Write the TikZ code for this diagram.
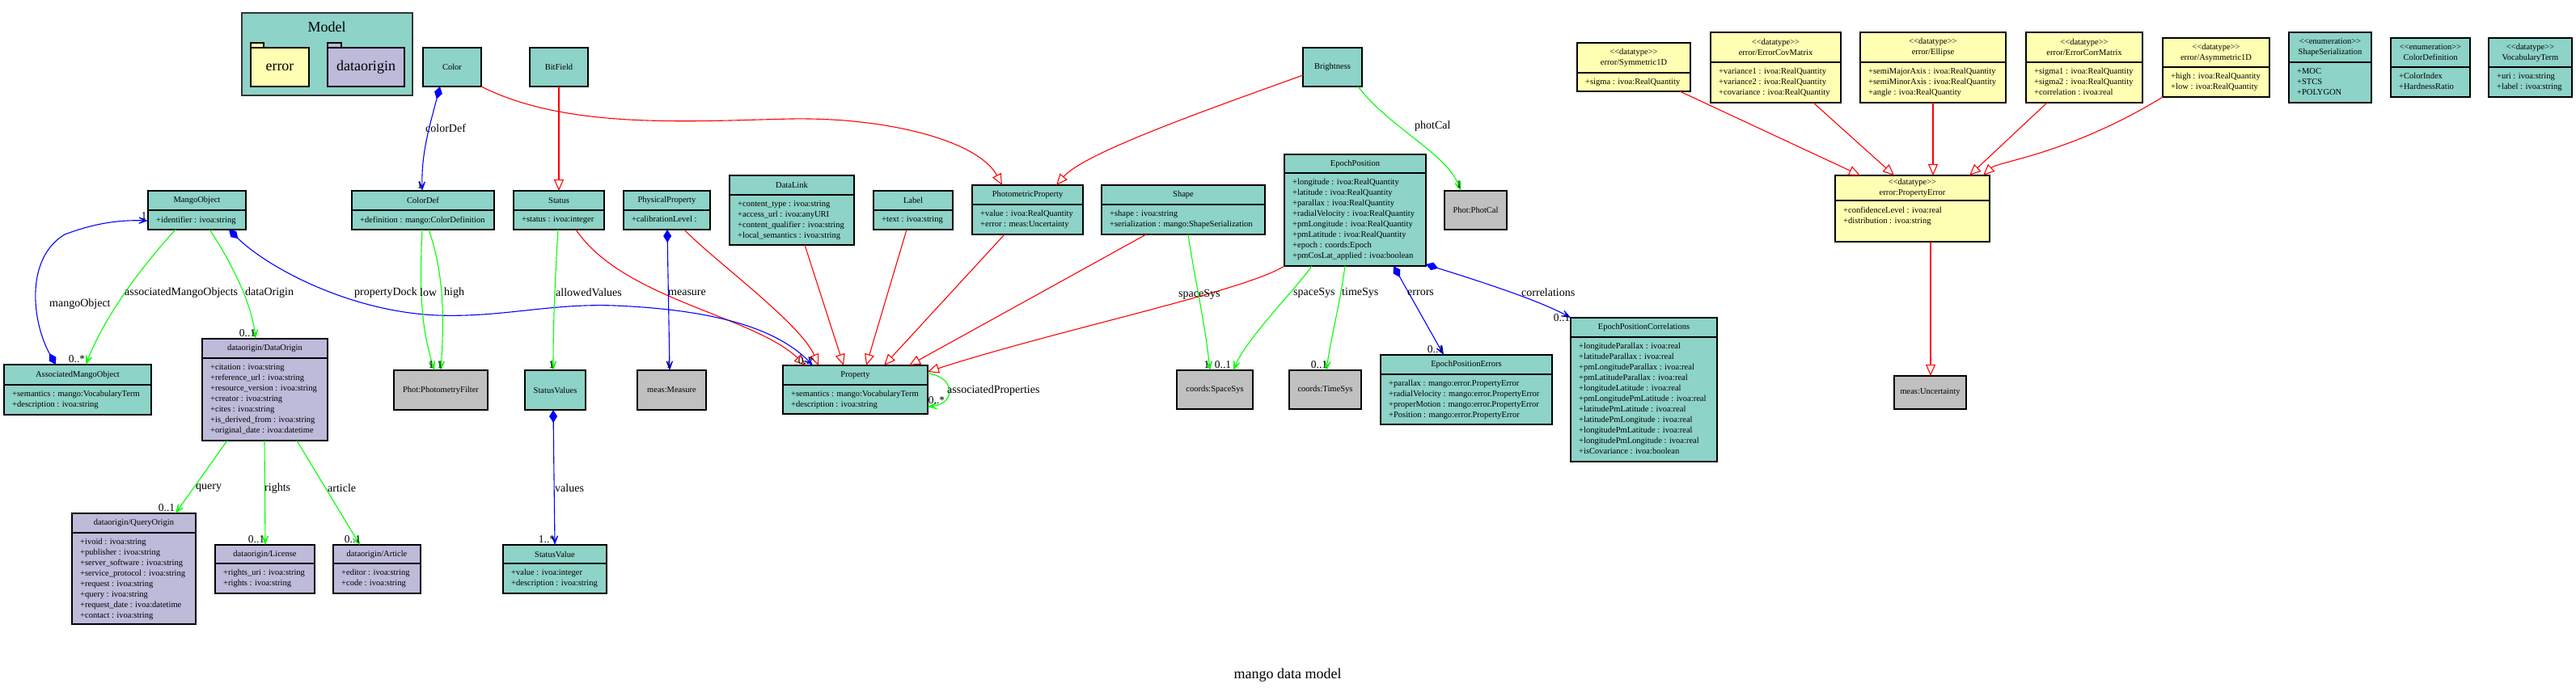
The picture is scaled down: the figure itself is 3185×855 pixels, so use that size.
\documentclass[tikz,border=0pt]{standalone}
\usepackage{fontspec}
\setmainfont{Liberation Serif}
\usetikzlibrary{arrows.meta}
\definecolor{teal8}{HTML}{8DD3C7}
\definecolor{yel}{HTML}{FFFFB3}
\definecolor{lav}{HTML}{BEBADA}
\definecolor{gry}{HTML}{C0C0C0}
\definecolor{gr}{HTML}{00FF00}
\newcommand\stl{<\kern0pt<}
\newcommand\stg{>\kern0pt>}
\tikzset{
  clsbox/.style={draw=black, line width=1.2pt, inner sep=0pt, outer sep=0pt},
  divline/.style={draw=black, line width=1.2pt},
  hdr/.style={inner sep=0pt, align=center, font=\fontsize{10.5}{13}\selectfont},
  attr/.style={inner sep=0pt, anchor=north west, align=left, font=\fontsize{10.5}{13}\selectfont},
  elbl/.style={inner sep=0pt, anchor=west, font=\fontsize{14}{16}\selectfont},
  mult/.style={inner sep=0pt, font=\fontsize{13.5}{15}\selectfont},
  gen/.style={draw=red, line width=1.1pt, -{Triangle[open, length=14pt, width=12pt]}},
  assoc/.style={draw=gr, line width=1.1pt, -{Stealth[length=17pt, width=13pt, inset=11pt]}},
  comp/.style={draw=blue, line width=1.1pt, {Diamond[length=16pt, width=10pt]}-{Stealth[length=17pt, width=13pt, inset=11pt]}},
}
\newcommand\umlcls[9]{%
  \node[clsbox, fill=#7, minimum width={(#4-#2)*1pt}, minimum height={(#5-#3)*1pt}] (#1) at ({(#2+#4)/2},{(#3+#5)/2}) {};
  \draw[divline] (#2,#6) -- (#4,#6);
  \node[hdr] (#1h) at ({(#2+#4)/2},{(#3+#6)/2}) {#8};
  \node[attr] (#1a) at (#2+10,#6+7.5) {#9};
}
\newcommand\umlbox[7]{%
  \node[clsbox, fill=#6, minimum width={(#4-#2)*1pt}, minimum height={(#5-#3)*1pt}, font=\fontsize{10.5}{13}\selectfont] (#1) at ({(#2+#4)/2},{(#3+#5)/2}) {#7};
}
\begin{document}
\begin{tikzpicture}[x=1pt, y=-1pt]
\fill[white] (0,0) rectangle (3185,855);
\useasboundingbox (0,0) rectangle (3185,855);

% package
\node[draw=black!80, line width=1.4pt, fill=teal8, minimum width=211pt, minimum height=102pt, inner sep=0pt] (Model) at (404.5,67) {};
\node[inner sep=0pt, font=\fontsize{18}{20}\selectfont] (ModelT) at (404,33) {Model};
\draw[fill=yel, line width=1.2pt] (310,53) rectangle (326,59);
\node[draw=black, line width=1.2pt, fill=yel, minimum width=72pt, minimum height=48pt, inner sep=0pt, font=\fontsize{18}{20}\selectfont] (pkgerror) at (346,83) {error};
\draw[fill=lav, line width=1.2pt] (405,53) rectangle (422,59);
\node[draw=black, line width=1.2pt, fill=lav, minimum width=95pt, minimum height=48pt, inner sep=0pt, font=\fontsize{18}{20}\selectfont] (pkgdataorigin) at (452.5,83) {dataorigin};

% classes
\umlbox{Color}{523}{59}{595}{107}{teal8}{Color}
\umlbox{BitField}{655}{59}{727}{107}{teal8}{BitField}
\umlbox{Brightness}{1611}{59}{1684}{107}{teal8}{Brightness}
\umlbox{PhotCal}{1786}{236}{1863}{284}{gry}{Phot:PhotCal}
\umlcls{MangoObject}{183}{236}{304}{284}{260}{teal8}{MangoObject}{+identifier : ivoa:string}
\umlcls{ColorDef}{435}{236}{611}{284}{260}{teal8}{ColorDef}{+definition : mango:ColorDefinition}
\umlcls{Status}{635}{236}{747}{284}{260}{teal8}{Status}{+status : ivoa:integer}
\umlcls{PhysProp}{771}{236}{878}{284}{260}{teal8}{PhysicalProperty}{+calibrationLevel :}
\umlcls{DataLink}{902}{217}{1056}{303}{241}{teal8}{DataLink}{+content\_type : ivoa:string\\+access\_url : ivoa:anyURI\\+content\_qualifier : ivoa:string\\+local\_semantics : ivoa:string}
\umlcls{Label}{1080}{236}{1178}{284}{260}{teal8}{Label}{+text : ivoa:string}
\umlcls{PhotProp}{1202}{229}{1339}{290}{253}{teal8}{PhotometricProperty}{+value : ivoa:RealQuantity\\+error : meas:Uncertainty}
\umlcls{Shape}{1362}{229}{1564}{290}{253}{teal8}{Shape}{+shape : ivoa:string\\+serialization : mango:ShapeSerialization}
\umlcls{EpochPos}{1588}{191}{1763}{329}{214}{teal8}{EpochPosition}{+longitude : ivoa:RealQuantity\\+latitude : ivoa:RealQuantity\\+parallax : ivoa:RealQuantity\\+radialVelocity : ivoa:RealQuantity\\+pmLongitude : ivoa:RealQuantity\\+pmLatitude : ivoa:RealQuantity\\+epoch : coords:Epoch\\+pmCosLat\_applied : ivoa:boolean}
\umlcls{AMO}{5}{451}{187}{513}{476}{teal8}{AssociatedMangoObject}{+semantics : mango:VocabularyTerm\\+description : ivoa:string}
\umlcls{DataOrigin}{250}{419}{405}{545}{443}{lav}{dataorigin/DataOrigin}{+citation : ivoa:string\\+reference\_url : ivoa:string\\+resource\_version : ivoa:string\\+creator : ivoa:string\\+cites : ivoa:string\\+is\_derived\_from : ivoa:string\\+original\_date : ivoa:datetime}
\umlbox{PhotFilter}{487}{458}{603}{507}{gry}{Phot:PhotometryFilter}
\umlbox{StatusValues}{649}{458}{724}{507}{teal8}{StatusValues}
\umlbox{Measure}{788}{458}{873}{507}{gry}{meas:Measure}
\umlcls{Property}{968}{452}{1147}{512}{476}{teal8}{Property}{+semantics : mango:VocabularyTerm\\+description : ivoa:string}
\umlbox{SpaceSys}{1455}{458}{1549}{506}{gry}{coords:SpaceSys}
\umlbox{TimeSys}{1594}{458}{1683}{506}{gry}{coords:TimeSys}
\umlcls{EPE}{1707}{439}{1919}{525}{463}{teal8}{EpochPositionErrors}{+parallax : mango:error.PropertyError\\+radialVelocity : mango:error.PropertyError\\+properMotion : mango:error.PropertyError\\+Position : mango:error.PropertyError}
\umlcls{EPC}{1942}{393}{2123}{571}{417}{teal8}{EpochPositionCorrelations}{+longitudeParallax : ivoa:real\\+latitudeParallax : ivoa:real\\+pmLongitudeParallax : ivoa:real\\+pmLatitudeParallax : ivoa:real\\+longitudeLatitude : ivoa:real\\+pmLongitudePmLatitude : ivoa:real\\+latitudePmLatitude : ivoa:real\\+latitudePmLongitude : ivoa:real\\+longitudePmLatitude : ivoa:real\\+longitudePmLongitude : ivoa:real\\+isCovariance : ivoa:boolean}
\umlcls{QueryOrigin}{89}{635}{242}{772}{659}{lav}{dataorigin/QueryOrigin}{+ivoid : ivoa:string\\+publisher : ivoa:string\\+server\_software : ivoa:string\\+service\_protocol : ivoa:string\\+request : ivoa:string\\+query : ivoa:string\\+request\_date : ivoa:datetime\\+contact : ivoa:string}
\umlcls{License}{266}{674}{389}{734}{697}{lav}{dataorigin/License}{+rights\_uri : ivoa:string\\+rights : ivoa:string}
\umlcls{Article}{412}{674}{520}{734}{697}{lav}{dataorigin/Article}{+editor : ivoa:string\\+code : ivoa:string}
\umlcls{StatusValue}{622}{674}{750}{734}{697}{teal8}{StatusValue}{+value : ivoa:integer\\+description : ivoa:string}
\umlcls{Sym1D}{1950}{53}{2090}{113}{90}{yel}{\stl datatype\stg\\error/Symmetric1D}{+sigma : ivoa:RealQuantity}
\umlcls{CovM}{2115}{40}{2276}{127}{77}{yel}{\stl datatype\stg\\error/ErrorCovMatrix}{+variance1 : ivoa:RealQuantity\\+variance2 : ivoa:RealQuantity\\+covariance : ivoa:RealQuantity}
\umlcls{Ellipse}{2300}{40}{2480}{127}{77}{yel}{\stl datatype\stg\\error/Ellipse}{+semiMajorAxis : ivoa:RealQuantity\\+semiMinorAxis : ivoa:RealQuantity\\+angle : ivoa:RealQuantity}
\umlcls{CorrM}{2505}{40}{2649}{127}{77}{yel}{\stl datatype\stg\\error/ErrorCorrMatrix}{+sigma1 : ivoa:RealQuantity\\+sigma2 : ivoa:RealQuantity\\+correlation : ivoa:real}
\umlcls{Asym1D}{2674}{47}{2806}{120}{83}{yel}{\stl datatype\stg\\error/Asymmetric1D}{+high : ivoa:RealQuantity\\+low : ivoa:RealQuantity}
\umlcls{ShapeSer}{2830}{40}{2932}{127}{77}{teal8}{\stl enumeration\stg\\ShapeSerialization}{+MOC\\+STCS\\+POLYGON}
\umlcls{ColorDefn}{2956}{47}{3054}{120}{83}{teal8}{\stl enumeration\stg\\ColorDefinition}{+ColorIndex\\+HardnessRatio}
\umlcls{VocTerm}{3077}{47}{3180}{120}{83}{teal8}{\stl datatype\stg\\VocabularyTerm}{+uri : ivoa:string\\+label : ivoa:string}
\umlcls{PropErr}{2269}{217}{2460}{299}{248}{yel}{\stl datatype\stg\\error:PropertyError}{+confidenceLevel : ivoa:real\\+distribution : ivoa:string}
\umlbox{Uncert}{2342}{465}{2431}{506}{gry}{meas:Uncertainty}

% generalizations
\draw[gen] (595,0 |- Color.south) .. controls (700,160) and (850,150) .. (978,147) .. controls (1100,145) and (1210,175) .. (1239,0 |- PhotProp.north);
\draw[gen] (Brightness.west |- 0,93) .. controls (1480,140) and (1340,190) .. (1306,0 |- PhotProp.north);
\draw[gen] (BitField.south) -- (Status.north);
\draw[gen] (712,0 |- Status.south) .. controls (770,370) and (930,390) .. (996,0 |- Property.north);
\draw[gen] (846,0 |- PhysProp.south) .. controls (880,320) and (990,400) .. (1012,0 |- Property.north);
\draw[gen] (995,0 |- DataLink.south) -- (1043,0 |- Property.north);
\draw[gen] (1121,0 |- Label.south) -- (1071,0 |- Property.north);
\draw[gen] (1242,0 |- PhotProp.south) -- (1093,0 |- Property.north);
\draw[gen] (1417,0 |- Shape.south) -- (1124,0 |- Property.north);
\draw[gen] (EpochPos.south west) .. controls (1540,360) and (1300,410) .. (Property.east |- 0,460);
\draw[gen] (2077,0 |- Sym1D.south) -- (2300,0 |- PropErr.north);
\draw[gen] (2242,0 |- CovM.south) -- (2342,0 |- PropErr.north);
\draw[gen] (2390,0 |- Ellipse.south) -- (2390,0 |- PropErr.north);
\draw[gen] (2531,0 |- CorrM.south) -- (2435,0 |- PropErr.north);
\draw[gen] (Asym1D.south west) .. controls (2560,190) and (2470,200) .. (2452,0 |- PropErr.north);
\draw[gen] (2387,0 |- PropErr.south) -- (2387,0 |- Uncert.north);

% associations
\draw[comp] (544,0 |- Color.south) .. controls (530,160) and (521,190) .. (522,0 |- ColorDef.north);
\draw[assoc] (1679,0 |- Brightness.south) .. controls (1720,160) and (1790,190) .. (1806,0 |- PhotCal.north);
\draw[comp] (69,0 |- AMO.north) .. controls (40,400) and (30,320) .. (80,290) .. controls (120,275) and (150,272) .. (MangoObject.west |- 0,273);
\draw[assoc] (217,0 |- MangoObject.south) .. controls (175,330) and (130,390) .. (106,0 |- AMO.north);
\draw[assoc] (259,0 |- MangoObject.south) .. controls (290,330) and (312,380) .. (316,0 |- DataOrigin.north);
\draw[comp] (283,0 |- MangoObject.south) .. controls (330,330) and (430,385) .. (540,390) .. controls (620,393) and (680,375) .. (760,378) .. controls (880,383) and (960,405) .. (1005,0 |- Property.north);
\draw[assoc] (522,0 |- ColorDef.south) .. controls (519,350) and (519,400) .. (537,0 |- PhotFilter.north);
\draw[assoc] (530,0 |- ColorDef.south) .. controls (550,340) and (549,400) .. (545,0 |- PhotFilter.north);
\draw[assoc] (690,0 |- Status.south) .. controls (686,350) and (684,400) .. (684,0 |- StatusValues.north);
\draw[comp] (825,0 |- PhysProp.south) -- (828,0 |- Measure.north);
\draw[assoc] (Property.east |- 0,462) .. controls (1182,466) and (1182,500) .. (Property.east |- 0,503);
\draw[assoc] (1469,0 |- Shape.south) .. controls (1478,350) and (1490,400) .. (1496,0 |- SpaceSys.north);
\draw[assoc] (1622,0 |- EpochPos.south) .. controls (1600,360) and (1540,420) .. (1525,0 |- SpaceSys.north);
\draw[assoc] (1663,0 |- EpochPos.south) .. controls (1656,380) and (1645,420) .. (1640,0 |- TimeSys.north);
\draw[comp] (1723,0 |- EpochPos.south) -- (1785,0 |- EPE.north);
\draw[comp] (EpochPos.east |- 0,327) .. controls (1820,345) and (1900,370) .. (EPC.north west);
\draw[comp] (684,0 |- StatusValues.south) -- (686,0 |- StatusValue.north);
\draw[assoc] (281,0 |- DataOrigin.south) -- (217,0 |- QueryOrigin.north);
\draw[assoc] (327,0 |- DataOrigin.south) -- (328,0 |- License.north);
\draw[assoc] (367,0 |- DataOrigin.south) -- (445,0 |- Article.north);

% edge labels
\node[elbl] (lcolordef) at (526,159) {colorDef};
\node[elbl] (lphotcal) at (1749,156) {photCal};
\node[elbl] (lmango) at (61,376) {mangoObject};
\node[elbl] (lamo) at (154,362) {associatedMangoObjects};
\node[elbl] (ldo) at (303,362) {dataOrigin};
\node[elbl] (lpd) at (438,362) {propertyDock};
\node[elbl] (llow) at (519,362) {low};
\node[elbl] (lhigh) at (549,362) {high};
\node[elbl] (lallowed) at (687,362) {allowedValues};
\node[elbl] (lmeasure) at (826,362) {measure};
\node[elbl] (lap) at (1171,483) {associatedProperties};
\node[elbl] (lss1) at (1457,364) {spaceSys};
\node[elbl] (lss2) at (1599,362) {spaceSys};
\node[elbl] (lts) at (1659,362) {timeSys};
\node[elbl] (lerr) at (1740,362) {errors};
\node[elbl] (lcorr) at (1881,362) {correlations};
\node[elbl] (lquery) at (242,604) {query};
\node[elbl] (lrights) at (327,604) {rights};
\node[elbl] (larticle) at (405,604) {article};
\node[elbl] (lvalues) at (686,604) {values};

% multiplicities
\node[mult] (m1) at (519,229) {1};
\node[mult] (m2) at (1804,228) {1};
\node[mult] (m3) at (178,267) {1};
\node[mult] (m4) at (95,444) {0..*};
\node[mult] (m5) at (306,412) {0..1};
\node[mult] (m6) at (533,451) {1};
\node[mult] (m7) at (544,451) {1};
\node[mult] (m8) at (682,451) {1};
\node[mult] (m9) at (827,451) {1};
\node[mult] (m10) at (997,446) {0..*};
\node[mult] (m11) at (1158,495) {0..*};
\node[mult] (m12) at (1492,451) {1};
\node[mult] (m13) at (1512,451) {0..1};
\node[mult] (m14) at (1631,451) {0..1};
\node[mult] (m15) at (1775,432) {0..1};
\node[mult] (m16) at (1931,393) {0..1};
\node[mult] (m17) at (206,628) {0..1};
\node[mult] (m18) at (317,667) {0..1};
\node[mult] (m19) at (436,667) {0..1};
\node[mult] (m20) at (676,667) {1..*};

\node[inner sep=0pt, font=\fontsize{18}{20}\selectfont] (title) at (1592,835) {mango data model};
\end{tikzpicture}
\end{document}
